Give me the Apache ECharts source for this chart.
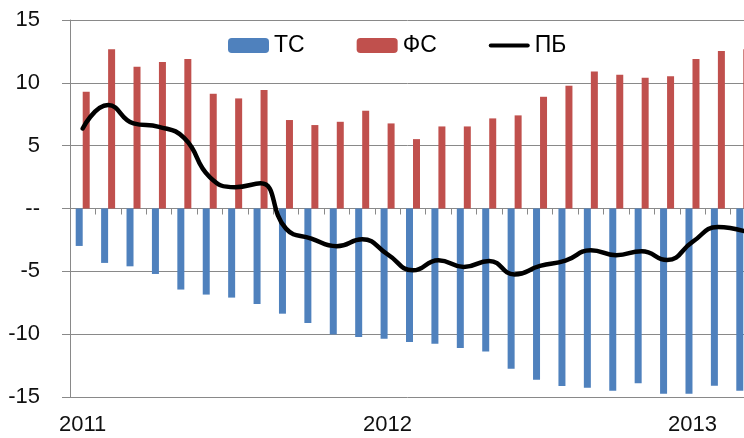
<!DOCTYPE html>
<html>
<head>
<meta charset="utf-8">
<script src="https://cdn.jsdelivr.net/npm/echarts@6/dist/echarts.min.js"></script>
<style>
  html, body { margin: 0; padding: 0; background: #fff; }
  #chart { width: 744px; height: 438px; }
</style>
</head>
<body>
<div id="chart"></div>
<script>
// monthly, Jan 2011 .. Mar 2013
var months = ['2011-01','2011-02','2011-03','2011-04','2011-05','2011-06','2011-07','2011-08','2011-09','2011-10','2011-11','2011-12',
              '2012-01','2012-02','2012-03','2012-04','2012-05','2012-06','2012-07','2012-08','2012-09','2012-10','2012-11','2012-12',
              '2013-01','2013-02','2013-03'];
var tsValues = [-2.98, -4.33, -4.6, -5.21, -6.45, -6.85, -7.09, -7.6, -8.37, -9.11, -10.02, -10.23,
                -10.36, -10.63, -10.76, -11.1, -11.37, -12.75, -13.63, -14.13, -14.26, -14.5, -13.9, -14.74,
                -14.74, -14.1, -14.5];
var fsValues = [9.29, 12.67, 11.28, 11.66, 11.9, 9.13, 8.76, 9.43, 7.04, 6.64, 6.9, 7.78,
                6.77, 5.52, 6.53, 6.53, 7.17, 7.41, 8.89, 9.77, 10.91, 10.65, 10.41, 10.52,
                11.9, 12.53, 12.67];
var pbValues = [6.37, 8.23, 6.77, 6.5, 5.6, 2.5, 1.7, 2.0, -1.6, -2.39, -3.0, -2.45,
                -3.65, -4.92, -4.12, -4.65, -4.17, -5.26, -4.57, -4.15, -3.32, -3.72, -3.4, -4.1,
                -2.66, -1.47, -1.78];

var gridColor = '#898989';
var font = 'Liberation Sans';

var chart = echarts.init(document.getElementById('chart'));
var option = {
    animation: false,
    textStyle: { fontFamily: font },
    // plot runs past the right edge of the picture, like the source
    grid: { left: 70, right: -12, top: 20, bottom: 41, outerBoundsMode: 'none', containLabel: false },
    legend: {
        left: 228,
        top: 34,
        padding: 0,
        itemWidth: 41,
        itemHeight: 15,
        itemGap: 52,
        textStyle: { fontSize: 23, color: '#000' },
        data: [
            { name: 'ТС' },
            { name: 'ФС' },
            { name: 'ПБ', icon: 'path://M2,0 L43,0 A2.25,2.25 0 0 1 43,4.5 L2,4.5 A2.25,2.25 0 0 1 2,0 Z' }
        ]
    },
    xAxis: [
        {
            type: 'category',
            data: months,
            position: 'bottom',
            axisLine: { onZero: true, lineStyle: { color: gridColor, width: 1 } },
            axisTick: { show: true, interval: 0, length: 6, lineStyle: { color: gridColor } },
            axisLabel: { show: false }
        },
        {
            type: 'category',
            data: months,
            position: 'bottom',
            axisLine: { show: false, onZero: false },
            axisTick: { show: false },
            axisLabel: {
                interval: 0,
                margin: 17,
                fontSize: 22,
                color: '#111',
                formatter: function (v) {
                    return v.slice(5) === '01' ? v.slice(0, 4) : '';
                }
            }
        }
    ],
    yAxis: {
        type: 'value',
        min: -15,
        max: 15,
        interval: 5,
        axisLine: { show: true, lineStyle: { color: gridColor } },
        axisTick: { show: true, length: 8, lineStyle: { color: gridColor } },
        splitLine: { lineStyle: { color: gridColor, width: 1 } },
        axisLabel: {
            margin: 30,
            fontSize: 22,
            color: '#111',
            formatter: function (v) { return v === 0 ? '--' : String(v); }
        }
    },
    series: [
        {
            name: 'ТС',
            type: 'bar',
            xAxisIndex: 0,
            data: tsValues,
            barWidth: 7,
            barGap: '0%',
            itemStyle: { color: '#4F81BD' }
        },
        {
            name: 'ФС',
            type: 'bar',
            xAxisIndex: 0,
            data: fsValues,
            barWidth: 7,
            barGap: '0%',
            itemStyle: { color: '#C0504D' }
        },
        {
            name: 'ПБ',
            type: 'line',
            xAxisIndex: 0,
            data: pbValues,
            smooth: 0.5,
            symbol: 'none',
            z: 5,
            lineStyle: { color: '#000', width: 4.5, cap: 'round' },
            itemStyle: { color: '#000' }
        }
    ]
};
chart.setOption(option);
</script>
</body>
</html>
